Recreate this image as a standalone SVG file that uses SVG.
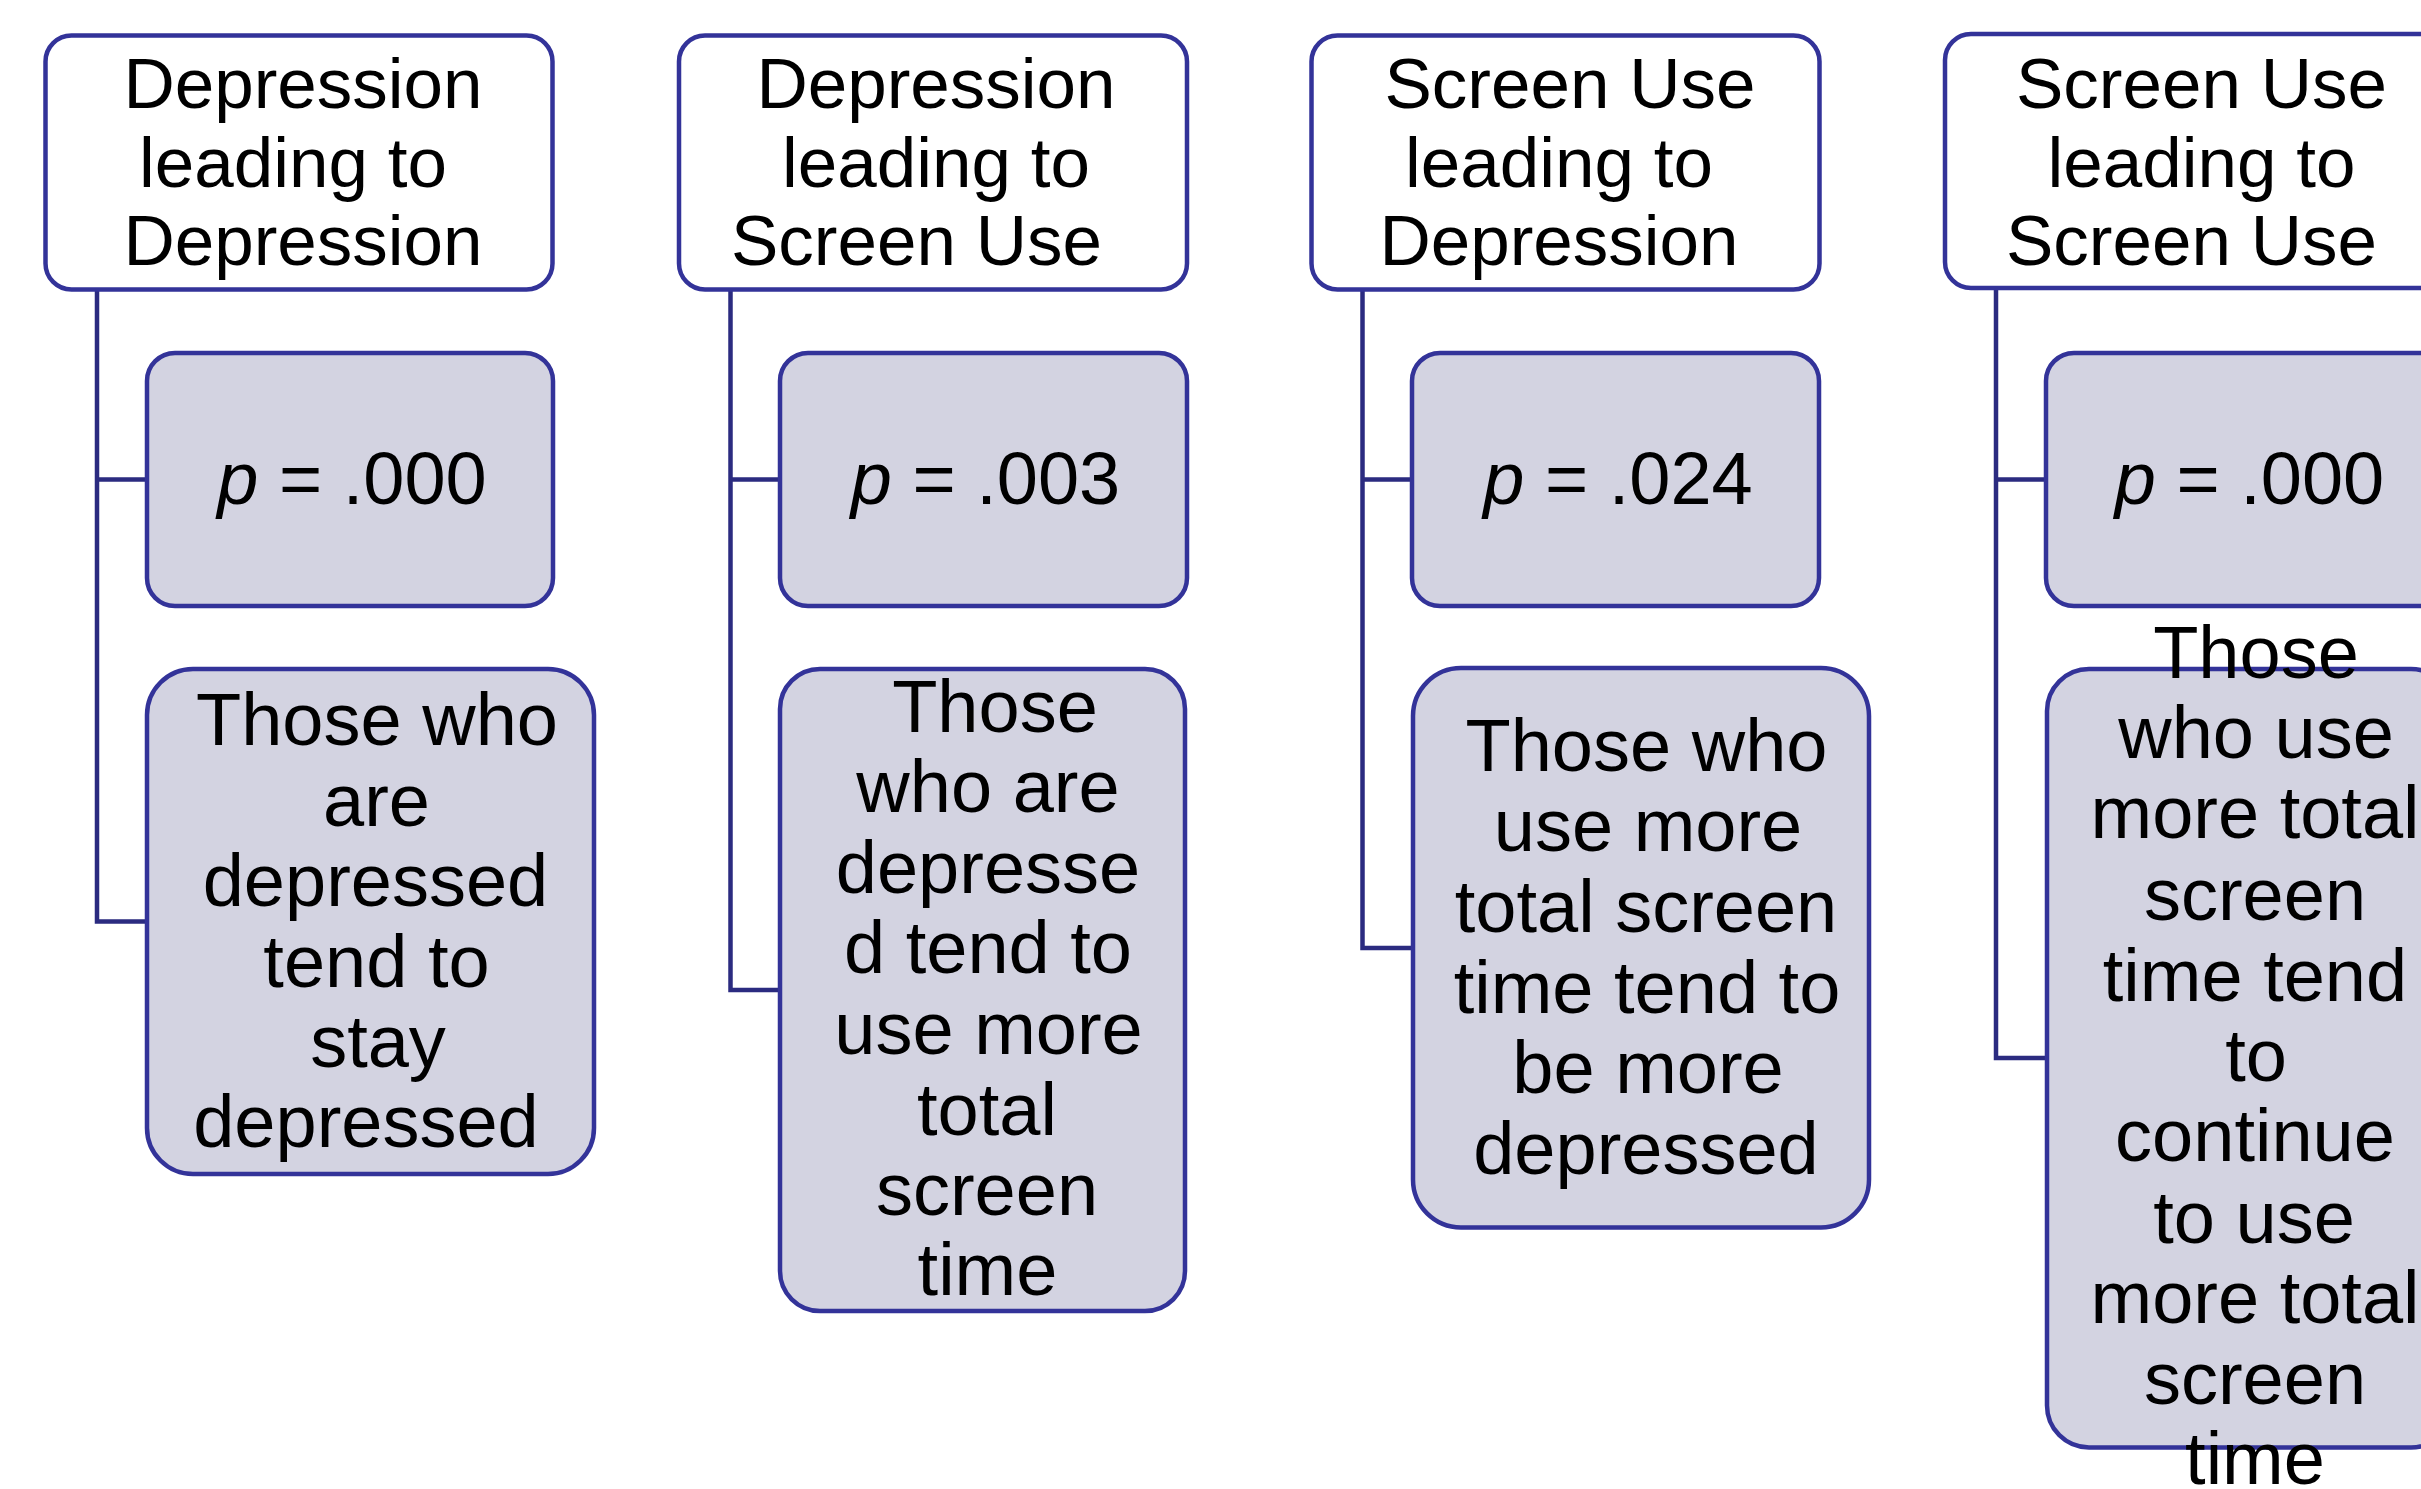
<svg xmlns="http://www.w3.org/2000/svg" width="2421" height="1489" viewBox="0 0 2421 1489">
<style>
.hdr{fill:#FFFFFF;stroke:#333399;stroke-width:4.5}
.pbx{fill:#D3D3E1;stroke:#333399;stroke-width:4.5}
.tbx{fill:#D3D3E1;stroke:#333399;stroke-width:4.5}
.conn{fill:none;stroke:#2B2B80;stroke-width:4.5;stroke-linejoin:miter}
text{font-family:"Liberation Sans",Arial,Helvetica,sans-serif;fill:#000000;text-anchor:middle}
.ht{font-size:71px}
.pt{font-size:74px}
.bt{font-size:74px}
</style>
<rect width="2421" height="1489" fill="#FFFFFF"/>
<g id="connectors">
<path class="conn" d="M97,289 V921.5 H147 M97,479.5 H147"/>
<path class="conn" d="M730.5,289 V990 H780 M730.5,479.5 H780"/>
<path class="conn" d="M1362.5,289 V948 H1413 M1362.5,479.5 H1412"/>
<path class="conn" d="M1996,288 V1058 H2047 M1996,479.5 H2046"/>
</g>
<g id="header1">
<rect class="hdr" x="45.5" y="35.5" width="507" height="254" rx="26"/>
<text class="ht"><tspan x="303" y="108">Depression</tspan><tspan x="293" y="186.5">leading to</tspan><tspan x="303" y="264.5">Depression</tspan></text>
</g>
<g id="p1">
<rect class="pbx" x="147" y="353" width="406" height="253" rx="28"/>
<text class="pt" x="352" y="504"><tspan font-style="italic">p</tspan> = .000</text>
</g>
<g id="desc1">
<rect class="tbx" x="147" y="669" width="447" height="505" rx="46"/>
<text class="bt"><tspan x="377" y="745">Those who</tspan><tspan x="376.5" y="825.5">are</tspan><tspan x="375.5" y="906">depressed</tspan><tspan x="376.5" y="986.5">tend to</tspan><tspan x="378" y="1067">stay</tspan><tspan x="366" y="1147">depressed</tspan></text>
</g>
<g id="header2">
<rect class="hdr" x="679" y="35.5" width="508" height="254" rx="26"/>
<text class="ht"><tspan x="936" y="108">Depression</tspan><tspan x="936" y="186.5">leading to</tspan><tspan x="916.5" y="264.5">Screen Use</tspan></text>
</g>
<g id="p2">
<rect class="pbx" x="780" y="353" width="407" height="253" rx="28"/>
<text class="pt" x="985.5" y="504"><tspan font-style="italic">p</tspan> = .003</text>
</g>
<g id="desc2">
<rect class="tbx" x="780" y="669" width="405" height="642" rx="40"/>
<text class="bt"><tspan x="995" y="732">Those</tspan><tspan x="988" y="812">who are</tspan><tspan x="988" y="893">depresse</tspan><tspan x="988" y="973">d tend to</tspan><tspan x="988.5" y="1054">use more</tspan><tspan x="987" y="1135">total</tspan><tspan x="987" y="1215">screen</tspan><tspan x="987.5" y="1295">time</tspan></text>
</g>
<g id="header3">
<rect class="hdr" x="1311.5" y="35.5" width="508" height="254" rx="26"/>
<text class="ht"><tspan x="1570" y="108">Screen Use</tspan><tspan x="1559" y="186.5">leading to</tspan><tspan x="1559" y="264.5">Depression</tspan></text>
</g>
<g id="p3">
<rect class="pbx" x="1412" y="353" width="407" height="253" rx="28"/>
<text class="pt" x="1618" y="504"><tspan font-style="italic">p</tspan> = .024</text>
</g>
<g id="desc3">
<rect class="tbx" x="1413" y="668" width="456" height="559.5" rx="48"/>
<text class="bt"><tspan x="1646.5" y="771">Those who</tspan><tspan x="1648" y="851">use more</tspan><tspan x="1646" y="932">total screen</tspan><tspan x="1647" y="1013">time tend to</tspan><tspan x="1648" y="1093">be more</tspan><tspan x="1646" y="1174">depressed</tspan></text>
</g>
<g id="header4">
<rect class="hdr" x="1945" y="34" width="508" height="254" rx="26"/>
<text class="ht"><tspan x="2201.5" y="108">Screen Use</tspan><tspan x="2201.5" y="186.5">leading to</tspan><tspan x="2191.5" y="264.5">Screen Use</tspan></text>
</g>
<g id="p4">
<rect class="pbx" x="2046" y="353" width="406" height="253" rx="28"/>
<text class="pt" x="2249.5" y="504"><tspan font-style="italic">p</tspan> = .000</text>
</g>
<g id="desc4">
<rect class="tbx" x="2047" y="669" width="406" height="778.5" rx="42"/>
<text class="bt"><tspan x="2256" y="678">Those</tspan><tspan x="2256" y="758">who use</tspan><tspan x="2255" y="838">more total</tspan><tspan x="2255" y="920">screen</tspan><tspan x="2255" y="1001">time tend</tspan><tspan x="2256" y="1081">to</tspan><tspan x="2255" y="1161">continue</tspan><tspan x="2254" y="1243">to use</tspan><tspan x="2255" y="1323">more total</tspan><tspan x="2255" y="1404">screen</tspan><tspan x="2255" y="1484">time</tspan></text>
</g>
</svg>
